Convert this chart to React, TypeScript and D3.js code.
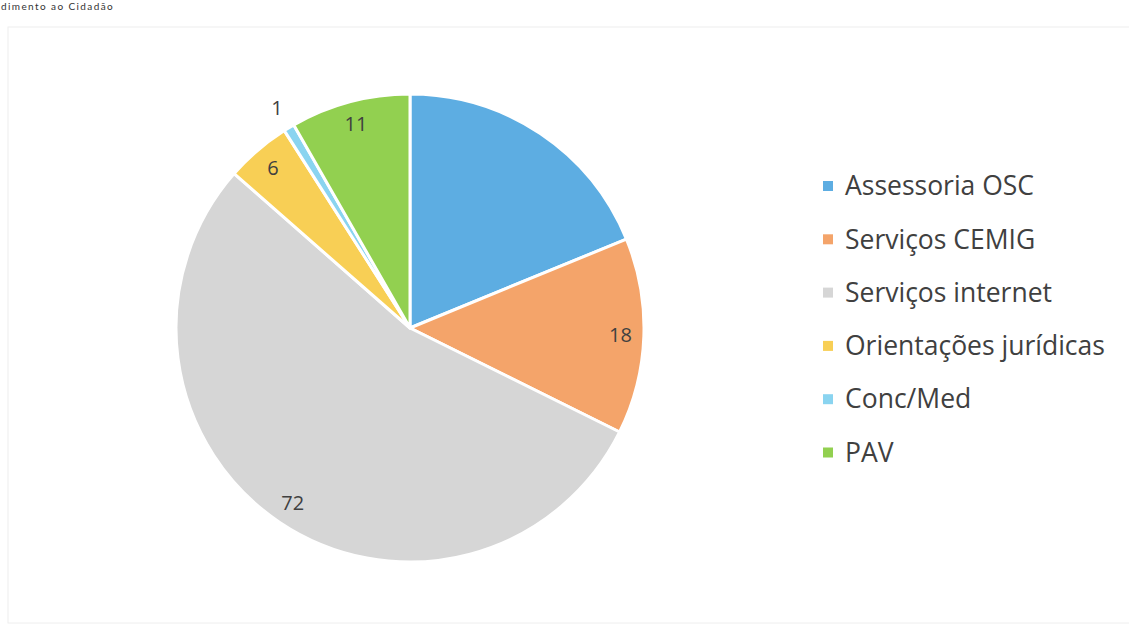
import React, { useEffect, useRef } from 'react';
import * as d3 from 'd3';

// categories and values
const categories = ['Assessoria OSC', 'Serviços CEMIG', 'Serviços internet', 'Orientações jurídicas', 'Conc/Med', 'PAV'];
const values = [25, 18, 72, 6, 1, 11];
const colors = ['#5DADE2', '#F4A46A', '#D6D6D6', '#F8CF55', '#8AD4F0', '#92D050'];
// the blue slice carries no data label in the original
const showLabel = [false, true, true, true, true, true];

const App = () => {
  const svgRef = useRef<SVGSVGElement>(null);

  useEffect(() => {
    const width = 1129;
    const height = 631;
    const cx = 410;
    const cy = 328;
    const r = 234;

    const svg = d3.select(svgRef.current);
    svg.selectAll('*').remove();
    svg.attr('width', width).attr('height', height);

    svg.append('rect').attr('width', width).attr('height', height).attr('fill', '#fff');

    // faint frame of the chart area
    svg.append('rect')
      .attr('x', 8).attr('y', 27)
      .attr('width', width + 10).attr('height', 596)
      .attr('fill', 'none')
      .attr('stroke', '#eeeeee')
      .attr('stroke-width', 1);

    // header text, as much of it as the scan shows
    svg.append('text')
      .attr('x', 1).attr('y', 10)
      .attr('font-family', 'Lato, sans-serif')
      .attr('font-size', 10)
      .attr('letter-spacing', 1.4)
      .attr('fill', '#333')
      .text('dimento ao Cidadão');

    const data = categories.map((c, i) => ({ name: c, value: values[i], i }));
    const pie = d3.pie<any>().value(d => d.value).sort(null);
    const arcs = pie(data);
    const arc = d3.arc<any>().innerRadius(0).outerRadius(r);

    const g = svg.append('g').attr('transform', `translate(${cx},${cy})`);

    g.selectAll('path.slice')
      .data(arcs)
      .enter().append('path')
      .attr('class', 'slice')
      .attr('d', arc)
      .attr('fill', d => colors[d.data.i])
      .attr('stroke', '#fff')
      .attr('stroke-width', 3)
      .attr('stroke-linejoin', 'round');

    const inner = d3.arc<any>().innerRadius(r * 0.9).outerRadius(r * 0.9);
    const outer = d3.arc<any>().innerRadius(r * 1.1).outerRadius(r * 1.1);

    g.selectAll('text.lbl')
      .data(arcs.filter(d => showLabel[d.data.i]))
      .enter().append('text')
      .attr('class', 'lbl')
      .attr('transform', d => {
        const p = d.data.value < 3 ? outer.centroid(d) : inner.centroid(d);
        return `translate(${p[0]},${p[1]})`;
      })
      .attr('text-anchor', 'middle')
      .attr('dy', '0.35em')
      .attr('font-family', '"Open Sans", sans-serif')
      .attr('font-size', 20)
      .attr('fill', '#404040')
      .text(d => d.data.value);

    // legend
    const legend = svg.append('g').attr('transform', 'translate(823,186)');
    const rows = legend.selectAll('g.row')
      .data(categories)
      .enter().append('g')
      .attr('class', 'row')
      .attr('transform', (d, i) => `translate(0,${i * 53.3})`);

    rows.append('rect')
      .attr('x', 0).attr('y', -5)
      .attr('width', 10).attr('height', 10)
      .attr('fill', (d, i) => colors[i]);

    rows.append('text')
      .attr('x', 22).attr('y', 0)
      .attr('dy', '0.35em')
      .attr('font-family', '"Open Sans", sans-serif')
      .attr('font-size', 26.5)
      .attr('fill', '#404040')
      .text(d => d);
  }, []);

  return (
    <svg ref={svgRef} style={{ position: 'absolute', left: 0, top: 0, display: 'block' }}></svg>
  );
};

export default App;
